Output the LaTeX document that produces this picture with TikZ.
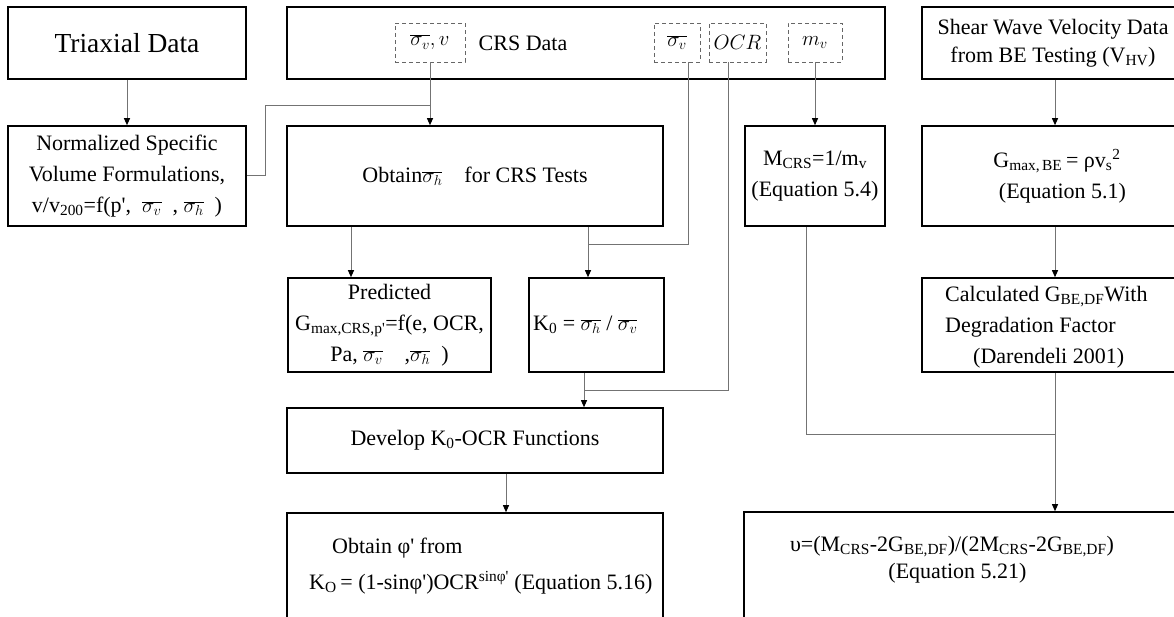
\documentclass[tikz,border=0pt]{standalone}
\usepackage{fontspec}
\setmainfont{Liberation Serif}
\usetikzlibrary{arrows.meta}

\tikzset{
  box/.style={draw, line width=1.6pt, inner sep=0pt, align=center},
  tag/.style={draw=black!60, line width=0.9pt, dash pattern=on 4pt off 3pt, inner sep=0pt},
  wire/.style={draw=black!55, line width=1pt},
  feed/.style={wire, -{Triangle[length=7pt,width=6pt,color=black]}},
  txt/.style={inner sep=0pt, align=left}
}
\newcommand{\sv}{$\overline{\sigma_v}$}
\newcommand{\sh}{$\overline{\sigma_h}$}
\newcommand{\pr}{\textquotesingle}

\begin{document}
\begin{tikzpicture}[x=1pt,y=-1pt,font=\fontsize{22}{31}\selectfont]
\useasboundingbox (0,0) rectangle (1174,617);
\clip (0,0) rectangle (1174,617);

% top row: data sources
\node[box, minimum width=238pt, minimum height=72pt] (triax) at (127,43) {\fontsize{27.5}{30}\selectfont Triaxial Data};
\node[box, minimum width=598pt, minimum height=72pt] (crs) at (586,43) {};
\node (crslabel) at (523,43) {CRS Data};
\node[tag, minimum width=70pt, minimum height=39pt] (sigv) at (430,42.5) {\sv$, v$};
\node[tag, minimum width=46pt, minimum height=39pt] (sigvb) at (677,42.5) {\sv};
\node[tag, minimum width=57pt, minimum height=39pt] (ocr) at (737.5,42.5) {$OCR$};
\node[tag, minimum width=54pt, minimum height=39pt] (mv) at (815,42.5) {$m_v$};
\node[box, minimum width=270pt, minimum height=72pt] (shear) at (1057,43) {};
\node[align=center, inner sep=0pt] (shearlabel) at (1053,43) {Shear Wave Velocity Data\\[-3pt]from BE Testing (V\textsubscript{HV})};

% second row
\node[box, minimum width=238pt, minimum height=100pt] (norm) at (127,176) {Normalized Specific\\Volume Formulations,\\ v/v\textsubscript{200}=f(p\pr,\ \ \sv\ \ ,\ \sh\ \ )};
\node[box, minimum width=376pt, minimum height=100pt] (obtain) at (475,176) {Obtain\sh\quad for CRS Tests};
\node[box, minimum width=140pt, minimum height=100pt] (mcrs) at (815,176) {M\textsubscript{CRS}=1/m\textsubscript{v}\\(Equation 5.4)};
\node[box, minimum width=270pt, minimum height=100pt] (gmax) at (1057,176) {G\textsubscript{max,\,BE}\,= ρv\textsubscript{s}\textsuperscript{2}\\\ \ (Equation 5.1)};

% third row
\node[box, minimum width=203pt, minimum height=94pt] (pred) at (389.5,325) {Predicted\\G\textsubscript{max,CRS,p\pr}=f(e, OCR,\\Pa, \sv\quad ,\sh\ \ )};
\node[box, minimum width=135pt, minimum height=94pt] (kzero) at (596.5,325) {};
\node[txt, anchor=west] (kzerolabel) at (533,325) {K\textsubscript{0} = \sh\ / \sv};
\node[box, minimum width=270pt, minimum height=94pt] (calc) at (1057,325) {};
\node[txt, anchor=west] (calclabel) at (945,327) {Calculated G\textsubscript{BE,DF}With\\Degradation Factor\\\hspace*{28pt}(Darendeli 2001)};

% lower rows
\node[box, minimum width=376pt, minimum height=65pt] (develop) at (475,440.5) {Develop K\textsubscript{0}-OCR Functions};
\node[box, minimum width=376pt, minimum height=150pt] (phi) at (475,588) {};
\node[txt, anchor=west] (philabel) at (332,548) {Obtain φ\pr{} from};
\node[txt, anchor=west] (kolabel) at (309,583) {K\textsubscript{O}\,= (1-sinφ\pr)OCR\textsuperscript{sinφ\pr} (Equation 5.16)};
\node[box, minimum width=448pt, minimum height=150pt] (poisson) at (968,587) {};
\node[align=center, inner sep=0pt] (poissonlabel) at (952,560) {υ=(M\textsubscript{CRS}-2G\textsubscript{BE,DF})/(2M\textsubscript{CRS}-2G\textsubscript{BE,DF})\\[-4pt]\ \ (Equation 5.21)};

% drop points and joints
\coordinate (jn) at (430,106);
\coordinate (pdrop) at (351,0);
\coordinate (kdrop) at (588,0);
\coordinate (ddrop) at (584,0);
\coordinate (fdrop) at (506,0);
\coordinate (mdrop) at (806,0);
\coordinate (rdrop) at (1055,0);
\coordinate (kj) at (588,245);
\coordinate (oj) at (584,390);
\coordinate (mj) at (1055,434);

% connectors
\draw[feed] (triax.south) -- (norm.north);
\draw[feed] (sigv.south) -- (sigv.south |- obtain.north);
\draw[wire] (norm.east) -- ++(19,0) |- (jn);
\draw[feed] (obtain.south -| pdrop) -- (pdrop |- pred.north);
\draw[feed] (obtain.south -| kdrop) -- (kdrop |- kzero.north);
\draw[wire] ([xshift=11pt]sigvb.south) |- (kj);
\draw[feed] (kzero.south -| ddrop) -- (ddrop |- develop.north);
\draw[wire] ([xshift=-9pt]ocr.south) |- (oj);
\draw[feed] (develop.south -| fdrop) -- (fdrop |- phi.north);
\draw[feed] (mv.south) -- (mv.south |- mcrs.north);
\draw[wire] (mcrs.south -| mdrop) |- (mj);
\draw[feed] (shear.south -| rdrop) -- (rdrop |- gmax.north);
\draw[feed] (gmax.south -| rdrop) -- (rdrop |- calc.north);
\draw[feed] (calc.south -| rdrop) -- (rdrop |- poisson.north);
\end{tikzpicture}
\end{document}
